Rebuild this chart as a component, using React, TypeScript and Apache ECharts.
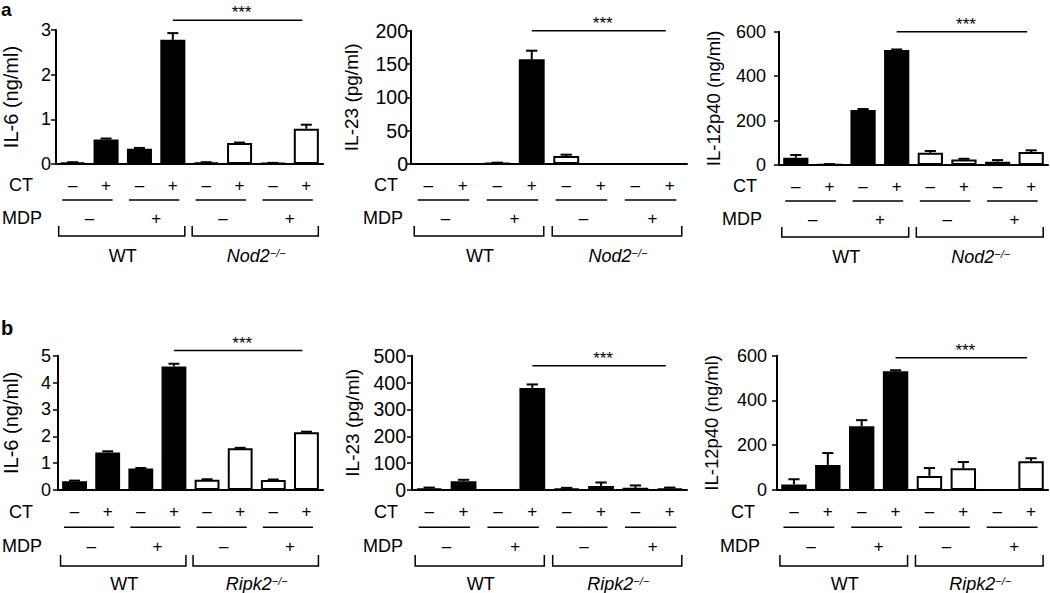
import React, { useEffect, useRef } from "react";
import * as echarts from "echarts";

// ---------- data ----------
const ctSigns = ["–", "+", "–", "+", "–", "+", "–", "+"];
const mdpSigns = ["–", "+", "–", "+"];
const genotypesA = ["WT", "Nod2"];
const genotypesB = ["WT", "Ripk2"];
const knockoutBar = [0, 0, 0, 0, 1, 1, 1, 1]; // 0 = WT (black), 1 = knockout (white)
const yTitles = ["IL-6 (ng/ml)", "IL-23 (pg/ml)", "IL-12p40 (ng/ml)"];

const il6A = [0.03, 0.55, 0.34, 2.78, 0.03, 0.47, 0.02, 0.79];
const il6AErr = [0.01, 0.02, 0.02, 0.15, 0.01, 0.01, 0.005, 0.09];
const il23A = [0, 0, 1.5, 157, 12, 0, 0, 0];
const il23AErr = [0, 0, 0.5, 13, 2, 0, 0, 0];
const il12A = [33, 3, 248, 518, 55, 25, 15, 58];
const il12AErr = [12, 1, 4, 2, 8, 3, 7, 8];

const il6B = [0.33, 1.4, 0.8, 4.6, 0.38, 1.55, 0.37, 2.15];
const il6BErr = [0.02, 0.04, 0.02, 0.1, 0.02, 0.02, 0.02, 0.02];
const il23B = [5, 33, 0, 380, 5, 15, 8, 5];
const il23BErr = [4, 5, 0, 13, 3, 13, 9, 4];
const il12B = [25, 112, 285, 530, 63, 97, 0, 128];
const il12BErr = [23, 53, 27, 5, 35, 28, 0, 14];

const yMaxA = [3, 200, 600];
const yIntervalA = [1, 50, 200];
const yMaxB = [5, 500, 600];
const yIntervalB = [1, 100, 200];
const sigLevelA = [3.22, 200, 600];
const sigLevelB = [5.19, 463, 591];
const sigText = "***";

const panels = [
  { vals: il6A, errs: il6AErr, title: yTitles[0], max: yMaxA[0], interval: yIntervalA[0], sig: sigLevelA[0], geno: genotypesA },
  { vals: il23A, errs: il23AErr, title: yTitles[1], max: yMaxA[1], interval: yIntervalA[1], sig: sigLevelA[1], geno: genotypesA },
  { vals: il12A, errs: il12AErr, title: yTitles[2], max: yMaxA[2], interval: yIntervalA[2], sig: sigLevelA[2], geno: genotypesA },
  { vals: il6B, errs: il6BErr, title: yTitles[0], max: yMaxB[0], interval: yIntervalB[0], sig: sigLevelB[0], geno: genotypesB },
  { vals: il23B, errs: il23BErr, title: yTitles[1], max: yMaxB[1], interval: yIntervalB[1], sig: sigLevelB[1], geno: genotypesB },
  { vals: il12B, errs: il12BErr, title: yTitles[2], max: yMaxB[2], interval: yIntervalB[2], sig: sigLevelB[2], geno: genotypesB },
];

// ---------- layout ----------
const FONT = "'Liberation Sans', Arial, Helvetica, sans-serif";
const gridBoxes = [
  { left: 55, top: 30, width: 268, height: 134 },
  { left: 411, top: 30.7, width: 276, height: 133.3 },
  { left: 779, top: 31.7, width: 269, height: 133.3 },
  { left: 55, top: 355.7, width: 268, height: 134.3 },
  { left: 412, top: 355.7, width: 275, height: 134.3 },
  { left: 777, top: 355.7, width: 271, height: 134.3 },
];
const nameGaps = [35, 50, 56, 37, 50, 56];
const nameSizes = [20, 19, 18.5, 20, 19, 18.5];
const tickSizes = [18, 19.5, 18, 18, 19.5, 18];
const tickLabelMargins = [5, 3, 13, 7, 6, 10];
const rowLabelGaps = [22, 13, 22, 22, 14, 22];
const rowA = { ct: 21, line: 36, mdp: 54, bTop: 62, bBot: 72, geno: 93 };
const rowB = { ct: 21.7, line: 37.3, mdp: 56, bTop: 65, bBot: 76, geno: 95 };

function errorBarRender(params: any, api: any) {
  const x = api.value(0);
  const v = api.value(1);
  const e = api.value(2);
  if (!e) return { type: "group", children: [] };
  const base = api.coord([x, v]);
  const top = api.coord([x, v + e]);
  const w = api.size([1, 0])[0] * 0.33;
  return {
    type: "group",
    children: [
      { type: "line", shape: { x1: base[0], y1: base[1], x2: top[0], y2: top[1] }, style: { stroke: "#000", lineWidth: 2 } },
      { type: "line", shape: { x1: top[0] - w / 2, y1: top[1], x2: top[0] + w / 2, y2: top[1] }, style: { stroke: "#000", lineWidth: 2 } },
    ],
  };
}

export default function App() {
  const ref = useRef<HTMLDivElement>(null);
  useEffect(() => {
    const chart = echarts.init(ref.current!, null, { renderer: "svg" });
    const grid: any[] = [];
    const xAxis: any[] = [];
    const yAxis: any[] = [];
    const series: any[] = [];
    const txt = { color: "#000", fontFamily: FONT };

    panels.forEach((pn, p) => {
      const g = gridBoxes[p];
      const row = p < 3 ? rowA : rowB;
      grid.push({ left: g.left, top: g.top, width: g.width, height: g.height });
      xAxis.push({
        type: "category", gridIndex: p, position: "bottom", data: ctSigns,
        axisLine: { lineStyle: { color: "#000", width: 2 } },
        axisTick: { alignWithLabel: true, length: 5, lineStyle: { color: "#000", width: 1.5 } },
        axisLabel: { ...txt, margin: row.ct - 8.5, fontSize: 17, interval: 0 },
        splitLine: { show: false },
      });
      xAxis.push({
        type: "category", gridIndex: p, position: "bottom", data: mdpSigns,
        axisLine: { show: false }, axisTick: { show: false },
        axisLabel: { ...txt, margin: row.mdp - 8.5, fontSize: 17, interval: 0 },
      });
      xAxis.push({
        type: "category", gridIndex: p, position: "bottom", data: pn.geno,
        axisLine: { show: false }, axisTick: { show: false },
        axisLabel: {
          ...txt, margin: row.geno - 10, fontSize: 18, interval: 0,
          formatter: (v: string, i: number) => (i === 0 ? v : `{it|${v}}{sup|−/−}`),
          rich: {
            it: { fontStyle: "italic", fontSize: 18, fontFamily: FONT, color: "#000" },
            sup: { fontStyle: "italic", fontSize: 11, fontFamily: FONT, color: "#000", verticalAlign: "top" },
          },
        },
      });
      yAxis.push({
        type: "value", gridIndex: p, min: 0, max: pn.max, interval: pn.interval,
        name: pn.title, nameLocation: "middle", nameRotate: 90, nameGap: nameGaps[p],
        nameTextStyle: { ...txt, fontSize: nameSizes[p] },
        axisLine: { show: true, lineStyle: { color: "#000", width: 2 } },
        axisTick: { show: true, length: 5, lineStyle: { color: "#000", width: 1.5 } },
        axisLabel: { ...txt, fontSize: tickSizes[p], margin: tickLabelMargins[p] },
        splitLine: { show: false },
      });
      series.push({
        type: "bar", xAxisIndex: 3 * p, yAxisIndex: p, barWidth: "75%", silent: true,
        data: pn.vals.map((v, i) => ({
          value: v,
          itemStyle: { color: knockoutBar[i] ? "#fff" : "#000", borderColor: "#000", borderWidth: 2 },
        })),
      });
      series.push({
        type: "custom", xAxisIndex: 3 * p, yAxisIndex: p, z: 5, silent: true,
        data: pn.vals.map((v, i) => [i, v, pn.errs[i]]),
        renderItem: errorBarRender,
      });
    });

    chart.setOption({ animation: false, grid, xAxis, yAxis, series });

    const gfx: any[] = [];
    const lineStyle = { stroke: "#000", lineWidth: 1.5, fill: null };
    const textStyle = (text: string, size: number, align: string, vAlign: string, bold = false) => ({
      text, fill: "#000", fontFamily: FONT, fontSize: size, fontWeight: bold ? "bold" : "normal",
      textAlign: align, align, textVerticalAlign: vAlign, verticalAlign: vAlign,
    });
    gfx.push({ type: "text", x: 1, y: 0, style: textStyle("a", 19, "left", "top", true) });
    gfx.push({ type: "text", x: 1, y: 318, style: textStyle("b", 20, "left", "top", true) });

    panels.forEach((pn, p) => {
      const g = gridBoxes[p];
      const row = p < 3 ? rowA : rowB;
      const cx = (i: number) => chart.convertToPixel({ xAxisIndex: 3 * p } as any, i) as number;
      const axisY = chart.convertToPixel({ yAxisIndex: p } as any, 0) as number;
      const labelX = g.left - rowLabelGaps[p];
      gfx.push({ type: "text", x: labelX, y: axisY + row.ct, style: textStyle("CT", 18, "right", "middle") });
      gfx.push({ type: "text", x: Math.max(labelX + 5, 42), y: axisY + row.mdp, style: textStyle("MDP", 18, "right", "middle") });
      for (let k = 0; k < 4; k++) {
        gfx.push({
          type: "line",
          shape: { x1: cx(2 * k) - 10.5, y1: axisY + row.line, x2: cx(2 * k + 1) + 6.5, y2: axisY + row.line },
          style: lineStyle,
        });
      }
      for (let h = 0; h < 2; h++) {
        const xl = cx(4 * h) - 14;
        const xr = cx(4 * h + 3) + 12;
        gfx.push({
          type: "polyline",
          shape: { points: [[xl, axisY + row.bTop], [xl, axisY + row.bBot], [xr, axisY + row.bBot], [xr, axisY + row.bTop]] },
          style: lineStyle,
        });
      }
      const sy = chart.convertToPixel({ yAxisIndex: p } as any, pn.sig) as number;
      const x1 = cx(3);
      const x2 = cx(7) - 4;
      gfx.push({ type: "line", shape: { x1, y1: sy, x2, y2: sy }, style: lineStyle });
      gfx.push({ type: "text", x: (x1 + x2) / 2 + 4, y: sy + 1, style: textStyle(sigText, 17, "center", "bottom") });
    });

    chart.setOption({ graphic: gfx });
    return () => chart.dispose();
  }, []);
  return <div ref={ref} style={{ position: "fixed", left: 0, top: 0, width: 1050, height: 593, background: "#fff" }} />;
}
